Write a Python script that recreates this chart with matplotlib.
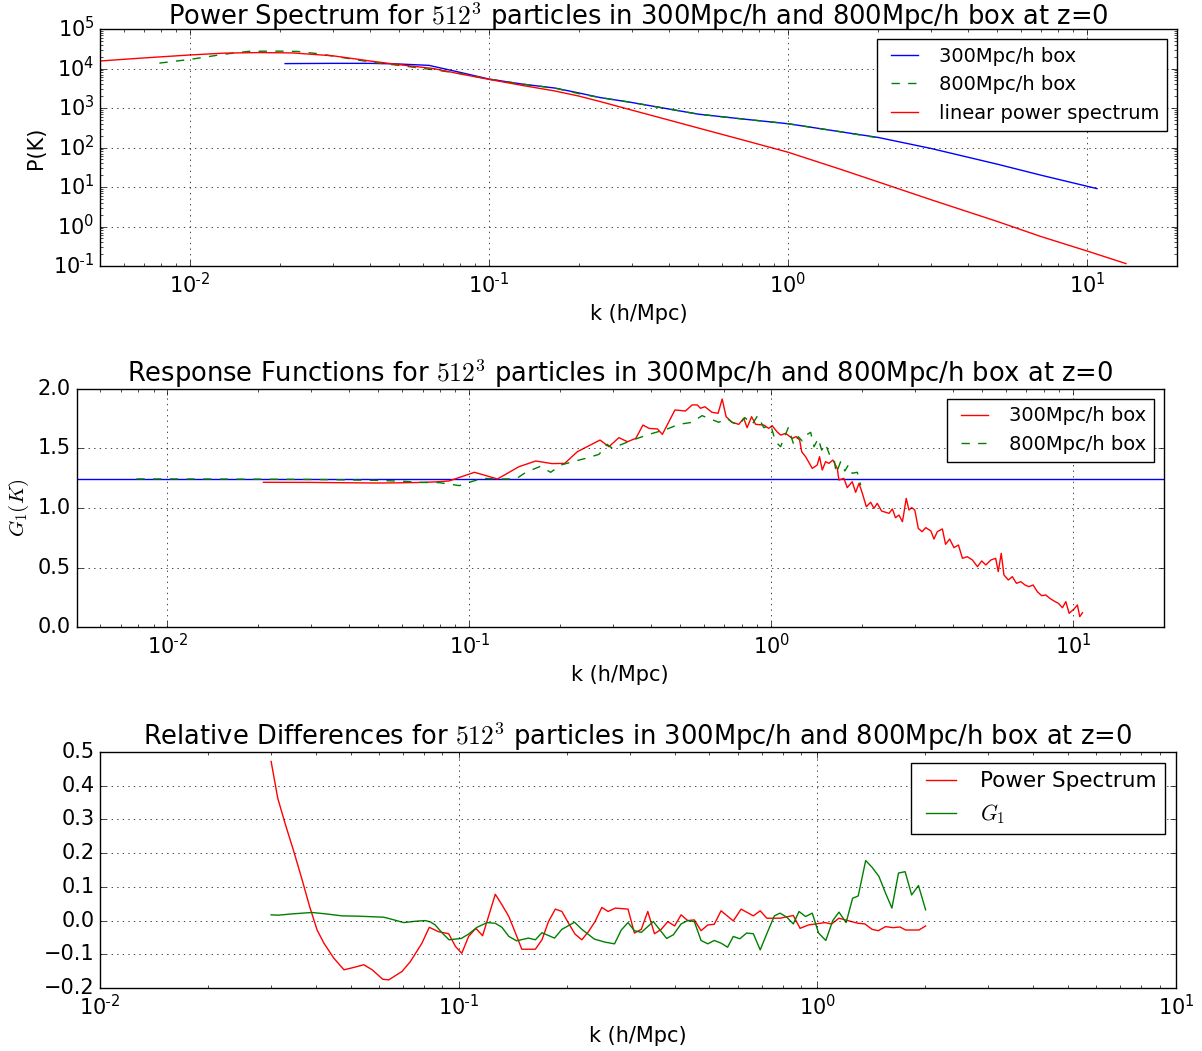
import math
import matplotlib
matplotlib.use("Agg")
import matplotlib.pyplot as plt
from matplotlib import ticker

plt.style.use('classic')
plt.rcParams['figure.facecolor'] = 'white'
plt.rcParams['savefig.facecolor'] = 'white'
plt.rcParams['font.family'] = ['DejaVu Sans']

# ---------------- Panel 1: power spectra ----------------
k_lin = [0.005, 0.007, 0.01, 0.013, 0.017, 0.022, 0.03, 0.04, 0.05, 0.065, 0.08, 0.1,
         0.13, 0.166, 0.2, 0.235, 0.3, 0.4, 0.5, 0.7, 1.0, 1.5, 2.0, 3.0, 5.0, 7.0, 10.0, 13.5]
p_lin = [1.55e4, 1.85e4, 2.2e4, 2.45e4, 2.53e4, 2.48e4, 2.1e4, 1.55e4, 1.25e4, 1.0e4, 7.3e3, 5.3e3,
         3.7e3, 2.7e3, 2.0e3, 1.46e3, 886, 494, 313, 158, 76, 28, 13.5, 4.8, 1.35, 0.56, 0.24, 0.115]

k_300 = [0.0208, 0.03, 0.04, 0.05, 0.063, 0.08, 0.1, 0.13, 0.166, 0.2, 0.235, 0.3, 0.5,
         0.7, 1.0, 1.5, 2.0, 3.0, 5.0, 7.0, 10.8]
p_300 = [1.33e4, 1.35e4, 1.35e4, 1.3e4, 1.2e4, 8.0e3, 5.4e3, 4.0e3, 3.2e3, 2.4e3, 1.84e3, 1.38e3, 700,
         530, 400, 250, 180, 95, 38, 20, 9.1]

k_800 = [0.0079, 0.01, 0.013, 0.0158, 0.02, 0.0229, 0.0268, 0.0416, 0.05, 0.063, 0.08, 0.1,
         0.13, 0.166, 0.2, 0.235, 0.3, 0.5, 0.7, 1.0, 1.5, 1.96]
p_800 = [1.37e4, 1.7e4, 2.3e4, 2.73e4, 2.75e4, 2.7e4, 2.37e4, 1.4e4, 1.2e4, 9.6e3, 7.5e3, 5.37e3,
         4.0e3, 3.2e3, 2.3e3, 1.84e3, 1.38e3, 700, 530, 400, 250, 180]

# ---------------- Panel 2: response functions ----------------
G1_linear = 1.24

k_g300 = [0.0208, 0.03, 0.04, 0.05, 0.06, 0.07, 0.0796, 0.0859, 0.104, 0.124, 0.146, 0.166, 0.188,
          0.207, 0.228, 0.271, 0.290, 0.313, 0.334, 0.356, 0.376, 0.394, 0.420, 0.436, 0.480,
          0.520, 0.547, 0.569, 0.583, 0.603, 0.637, 0.667, 0.688, 0.709, 0.742, 0.781, 0.811,
          0.832, 0.861, 0.888, 0.945, 0.981, 1.007, 1.045, 1.074, 1.116, 1.174, 1.210, 1.242,
          1.262, 1.30, 1.368, 1.420, 1.446, 1.476, 1.514, 1.553, 1.601, 1.655, 1.676, 1.741,
          1.786, 1.855, 1.904, 1.954, 2.004, 2.066, 2.135, 2.19, 2.245, 2.32, 2.455, 2.52, 2.58,
          2.65, 2.72, 2.75, 2.80, 2.86, 2.92, 2.99, 3.07, 3.16, 3.25, 3.38, 3.46, 3.55, 3.69,
          3.78, 3.90, 4.03, 4.17, 4.30, 4.46, 4.64, 4.82, 4.98, 5.14, 5.34, 5.54, 5.65, 5.78,
          5.90, 6.10, 6.29, 6.49, 6.71, 6.93, 7.14, 7.37, 7.61, 7.87, 8.12, 8.37, 8.65, 8.94,
          9.22, 9.46, 9.70, 10.07, 10.33, 10.52, 10.74]
g_300 = [1.216, 1.215, 1.212, 1.210, 1.212, 1.215, 1.221, 1.228, 1.30, 1.244, 1.347, 1.395, 1.373,
         1.375, 1.473, 1.571, 1.515, 1.591, 1.557, 1.585, 1.697, 1.669, 1.664, 1.619, 1.824,
         1.815, 1.866, 1.866, 1.838, 1.851, 1.804, 1.796, 1.916, 1.767, 1.720, 1.703, 1.754,
         1.675, 1.767, 1.703, 1.697, 1.669, 1.692, 1.641, 1.613, 1.627, 1.585, 1.60, 1.571,
         1.473, 1.431, 1.333, 1.361, 1.431, 1.319, 1.389, 1.375, 1.403, 1.333, 1.235, 1.249,
         1.171, 1.221, 1.132, 1.207, 1.123, 1.011, 1.048, 0.997, 1.039, 0.975, 0.955, 0.992, 0.919,
         0.941, 0.885, 0.955, 1.081, 0.983, 1.003, 0.983, 0.829, 0.801, 0.835, 0.807, 0.739, 0.801, 0.824,
         0.695, 0.739, 0.667, 0.689, 0.577, 0.591, 0.563, 0.507, 0.555, 0.521, 0.563, 0.577, 0.465, 0.619,
         0.437, 0.395, 0.423, 0.367, 0.381, 0.353, 0.339, 0.353, 0.297, 0.263, 0.269, 0.241, 0.218, 0.199,
         0.162, 0.213, 0.115, 0.151, 0.185, 0.087, 0.12]

k_g800 = [0.0079, 0.01, 0.015, 0.02, 0.03, 0.04, 0.05, 0.06, 0.07, 0.0796, 0.0927, 0.1, 0.1107,
          0.124, 0.1426, 0.154, 0.172, 0.186, 0.201, 0.22, 0.243, 0.269, 0.286, 0.298, 0.320,
          0.347, 0.374, 0.404, 0.430, 0.458, 0.494, 0.547, 0.590, 0.621, 0.670, 0.714, 0.742,
          0.781, 0.818, 0.865, 0.902, 0.945, 0.996, 1.034, 1.074, 1.139, 1.189, 1.229, 1.267,
          1.306, 1.351, 1.386, 1.432, 1.469, 1.514, 1.562, 1.614, 1.642, 1.698, 1.754, 1.800,
          1.855, 1.928, 1.979]
g_800 = [1.244, 1.244, 1.243, 1.242, 1.240, 1.236, 1.232, 1.225, 1.215, 1.213, 1.188, 1.216, 1.249,
         1.244, 1.244, 1.30, 1.350, 1.30, 1.361, 1.389, 1.417, 1.451, 1.535, 1.501, 1.535,
         1.571, 1.599, 1.627, 1.647, 1.669, 1.703, 1.720, 1.776, 1.754, 1.720, 1.754, 1.720,
         1.697, 1.760, 1.703, 1.776, 1.675, 1.697, 1.557, 1.515, 1.675, 1.529, 1.599, 1.563,
         1.613, 1.636, 1.515, 1.585, 1.487, 1.535, 1.445, 1.417, 1.292, 1.389, 1.311, 1.361,
         1.292, 1.30, 1.193]

# ---------------- Panel 3: relative differences ----------------
k_dp = [0.030, 0.0313, 0.0329, 0.0347, 0.0366, 0.0384, 0.0403, 0.0421, 0.0449, 0.0479, 0.051,
        0.0544, 0.0574, 0.0614, 0.0638, 0.0695, 0.0733, 0.079, 0.0828, 0.0879, 0.0938, 0.098,
        0.102, 0.1066, 0.1117, 0.1166, 0.1265, 0.132, 0.138, 0.144, 0.150, 0.1636, 0.1707,
        0.178, 0.186, 0.194, 0.2025, 0.211, 0.2205, 0.230, 0.240, 0.2507, 0.261, 0.2733,
        0.2966, 0.309, 0.323, 0.3367, 0.3515, 0.367, 0.383, 0.400, 0.417, 0.435, 0.454, 0.474,
        0.495, 0.516, 0.539, 0.583, 0.613, 0.663, 0.693, 0.723, 0.787, 0.857, 0.895, 0.945,
        1.05, 1.096, 1.149, 1.245, 1.30, 1.357, 1.421, 1.478, 1.55, 1.628, 1.70, 1.762, 1.92, 2.004]
dp = [0.472, 0.363, 0.284, 0.205, 0.121, 0.042, -0.028, -0.067, -0.112, -0.146, -0.139,
      -0.131, -0.146, -0.174, -0.176, -0.151, -0.122, -0.067, -0.020, -0.033, -0.039, -0.077,
      -0.097, -0.047, -0.023, -0.045, 0.078, 0.047, 0.012, -0.037, -0.085, -0.085, -0.057,
      -0.003, 0.034, 0.027, -0.008, -0.040, -0.057, -0.033, -0.003, 0.039, 0.027, 0.037,
      0.034, -0.037, -0.026, 0.027, -0.039, -0.026, -0.003, -0.016, 0.017, 0.0, 0.002, -0.030,
      -0.013, -0.011, 0.029, -0.001, 0.034, 0.014, 0.029, 0.007, 0.007, 0.015, -0.023, -0.013,
      -0.006, -0.010, 0.007, -0.003, -0.008, -0.010, -0.026, -0.030, -0.018, -0.021, -0.019, -0.028, -0.028, -0.016]

k_dg = [0.030, 0.0314, 0.0345, 0.039, 0.0425, 0.0473, 0.0526, 0.0618, 0.065, 0.0703, 0.0757,
        0.0807, 0.0834, 0.086, 0.090, 0.094, 0.1017, 0.1066, 0.1125, 0.120, 0.1265, 0.132, 0.138,
        0.145, 0.1566, 0.1636, 0.1707, 0.185, 0.194, 0.2104, 0.2205, 0.239, 0.256, 0.272,
        0.284, 0.2966, 0.309, 0.323, 0.349, 0.380, 0.397, 0.417, 0.435, 0.454, 0.474, 0.495,
        0.516, 0.539, 0.562, 0.583, 0.608, 0.635, 0.663, 0.693, 0.723, 0.759, 0.787, 0.822,
        0.857, 0.889, 0.927, 0.968, 1.008, 1.056, 1.104, 1.149, 1.203, 1.254, 1.30, 1.364,
        1.421, 1.485, 1.55, 1.614, 1.684, 1.757, 1.832, 1.914, 2.004]
dg = [0.017, 0.016, 0.020, 0.024, 0.020, 0.014, 0.013, 0.010, 0.004, -0.006, -0.002,
      0.0, -0.004, -0.013, -0.037, -0.057, -0.053, -0.040, -0.020, -0.006, -0.008, -0.020, -0.047,
      -0.060, -0.052, -0.057, -0.036, -0.052, -0.026, -0.005, -0.026, -0.055, -0.064, -0.069,
      -0.028, -0.006, -0.030, -0.035, -0.003, -0.053, -0.042, -0.010, 0.0, -0.003, -0.059, -0.069,
      -0.059, -0.067, -0.079, -0.047, -0.054, -0.037, -0.039, -0.087, -0.039, 0.014, 0.022, 0.010,
      -0.010, 0.027, 0.012, 0.022, -0.037, -0.059, 0.0, 0.025, -0.006, 0.066, 0.073, 0.178,
      0.158, 0.131, 0.081, 0.037, 0.141, 0.145, 0.076, 0.104, 0.032]

title_tail = r' for $512^3$ particles in 300Mpc/h and 800Mpc/h box at z=0'

W, H = 1202, 1051
fig = plt.figure(figsize=(W / 100, H / 100), dpi=100)

def rect(l, r, t, b):
    return [l / W, 1 - b / H, (r - l) / W, (b - t) / H]

def decade_fmt(v, pos):
    if v <= 0:
        return ''
    e = int(round(math.log10(v)))
    if abs(math.log10(v) - e) > 1e-6:
        return ''
    s = r'\text{-}%d' % (-e) if e < 0 else '%d' % e
    return r'$\mathdefault{10^{%s}}$' % s

TFS = 18.5
LFS = 15
GFS = 14

# Panel 1
ax1 = fig.add_axes(rect(100, 1177, 29, 266))
ax1.loglog(k_300, p_300, 'b-', lw=1, label='300Mpc/h box')
ax1.loglog(k_800, p_800, 'g--', lw=1, label='800Mpc/h box')
ax1.loglog(k_lin, p_lin, 'r-', lw=1, label='linear power spectrum')
ax1.set_xlim(0.005, 20)
ax1.set_ylim(0.1, 1e5)
ax1.set_title('Power Spectrum' + title_tail, fontsize=TFS, pad=3)
ax1.set_xlabel('k (h/Mpc)', fontsize=LFS)
ax1.set_ylabel('P(K)', fontsize=LFS)
ax1.grid(True)
ax1.legend(loc='upper right', fontsize=GFS)
ax1.yaxis.set_major_formatter(ticker.FuncFormatter(decade_fmt))

# Panel 2
ax2 = fig.add_axes(rect(76.5, 1164, 389, 627))
ax2.axhline(G1_linear, color='b', lw=1)
ax2.semilogx(k_g300, g_300, 'r-', lw=1, label='300Mpc/h box')
ax2.semilogx(k_g800, g_800, 'g--', lw=1, label='800Mpc/h box')
ax2.set_xlim(0.005, 20)
ax2.set_ylim(0, 2)
ax2.set_title('Response Functions' + title_tail, fontsize=TFS)
ax2.set_xlabel('k (h/Mpc)', fontsize=LFS)
ax2.set_ylabel(r'$G_1(K)$', fontsize=LFS)
ax2.grid(True)
ax2.legend(loc='upper right', fontsize=GFS)

# Panel 3
ax3 = fig.add_axes(rect(100, 1176, 752, 988))
ax3.semilogx(k_dp, dp, 'r-', lw=1, label='Power Spectrum')
ax3.semilogx(k_dg, dg, 'g-', lw=1, label=r'$G_1$')
ax3.set_xlim(0.01, 10)
ax3.set_ylim(-0.2, 0.5)
ax3.set_title('Relative Differences' + title_tail, fontsize=TFS)
ax3.set_xlabel('k (h/Mpc)', fontsize=LFS)
ax3.grid(True)
ax3.legend(loc='upper right', fontsize=15.5)

for ax in (ax1, ax2, ax3):
    ax.tick_params(labelsize=LFS)
    ax.xaxis.set_major_formatter(ticker.FuncFormatter(decade_fmt))

fig.savefig('out.png', dpi=100)
